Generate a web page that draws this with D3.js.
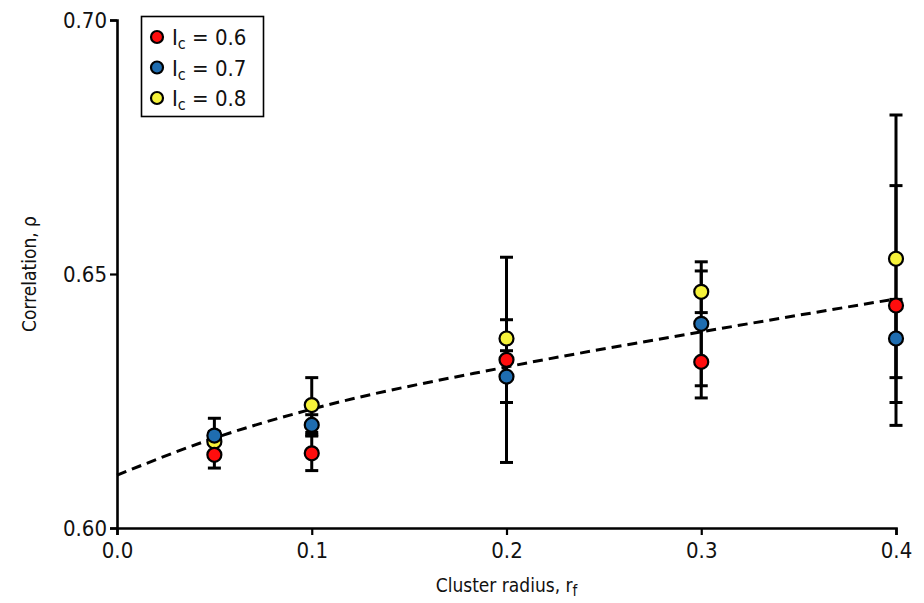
<!DOCTYPE html>
<html>
<head>
<meta charset="utf-8">
<script src="https://cdn.jsdelivr.net/npm/d3@7/dist/d3.min.js"></script>
<style>
  html, body { margin: 0; padding: 0; background: #fff; }
  svg text { font-family: "DejaVu Sans Condensed", "Liberation Sans Narrow", "DejaVu Sans", sans-serif; font-stretch: condensed; fill: #111; }
  svg tspan { fill: #111; }
</style>
</head>
<body>
<svg id="chart" width="924" height="603"></svg>
<script>
// Cluster radii at which correlation was measured
const radii = [0.05, 0.1, 0.2, 0.3, 0.4];

// Mean correlation and error (half-width) per threshold I_c
const rho06 = [0.6144, 0.6147, 0.6331, 0.6327, 0.6438];
const err06 = [0.0026, 0.0034, 0.0202, 0.0071, 0.0236];
const rho07 = [0.6182, 0.6203, 0.6298, 0.6402, 0.6373];
const err07 = [0.0034, 0.0020, 0.0051, 0.0122, 0.0077];
const rho08 = [0.6170, 0.6242, 0.6373, 0.6465, 0.6530];
const err08 = [0.0020, 0.0054, 0.0037, 0.0041, 0.0283];

// Fitted trend (dashed)
const fitX = [0, 0.05, 0.1, 0.2, 0.3, 0.4];
const fitY = [0.6104, 0.6177, 0.6234, 0.6317, 0.6386, 0.6451];

// Axis ticks
const xTicks = [0, 0.1, 0.2, 0.3, 0.4];
const yTicks = [0.60, 0.65, 0.70];

const seriesLabels = ["0.6", "0.7", "0.8"];
const seriesColors = ["#ff0d0d", "#1f6db0", "#f6f23a"];

const series = [
  { label: seriesLabels[0], color: seriesColors[0], rho: rho06, err: err06 },
  { label: seriesLabels[1], color: seriesColors[1], rho: rho07, err: err07 },
  { label: seriesLabels[2], color: seriesColors[2], rho: rho08, err: err08 }
];

const svg = d3.select("#chart");
const plotL = 117, plotR = 896, plotT = 20, plotB = 528;

const x = d3.scaleLinear().domain([0, 0.4]).range([plotL, plotR]);
const y = d3.scaleLinear().domain([0.60, 0.70]).range([plotB, plotT]);

// Axes
const xAxis = svg.append("g").attr("transform", `translate(0,${plotB})`)
  .call(d3.axisBottom(x).tickValues(xTicks).tickFormat(d3.format(".1f")).tickSizeOuter(0).tickSize(7));
const yAxis = svg.append("g").attr("transform", `translate(${plotL},0)`)
  .call(d3.axisLeft(y).tickValues(yTicks).tickFormat(d3.format(".2f")).tickSizeOuter(0).tickSize(7));

[xAxis, yAxis].forEach(g => {
  g.select(".domain").attr("stroke", "#000").attr("stroke-width", 2.6);
  g.selectAll(".tick line").attr("stroke", "#000").attr("stroke-width", 2.2);
  g.selectAll(".tick text").style("font-size", "22px").attr("fill", "#111");
});
xAxis.selectAll(".tick text").attr("dy", "0.9em");
yAxis.selectAll(".tick text").attr("x", -10);

// Axis titles
svg.append("text")
  .attr("x", (plotL + plotR) / 2).attr("y", 592)
  .attr("text-anchor", "middle").style("font-size", "19px")
  .text("Cluster radius, r")
  .append("tspan").attr("baseline-shift", "-25%").style("font-size", "15px").text("f");

svg.append("text")
  .attr("transform", `translate(36,${(plotT + plotB) / 2}) rotate(-90)`)
  .attr("text-anchor", "middle").style("font-size", "19px")
  .text("Correlation, ρ");

// Dashed trend
const line = d3.line().x(d => x(d[0])).y(d => y(d[1])).curve(d3.curveMonotoneX);
svg.append("path")
  .datum(fitX.map((v, i) => [v, fitY[i]]))
  .attr("d", line)
  .attr("fill", "none").attr("stroke", "#000")
  .attr("stroke-width", 3).attr("stroke-dasharray", "10,6");

// Error bars
const capW = 6.5;
series.forEach(s => {
  const g = svg.append("g").attr("stroke", "#000").attr("stroke-width", 3);
  radii.forEach((r, i) => {
    const cx = x(r), lo = y(s.rho[i] - s.err[i]), hi = y(s.rho[i] + s.err[i]);
    g.append("line").attr("x1", cx).attr("x2", cx).attr("y1", lo).attr("y2", hi);
    g.append("line").attr("x1", cx - capW).attr("x2", cx + capW).attr("y1", lo).attr("y2", lo);
    g.append("line").attr("x1", cx - capW).attr("x2", cx + capW).attr("y1", hi).attr("y2", hi);
  });
});

// Markers (yellow underneath, then red, then blue)
[series[2], series[0], series[1]].forEach(s => {
  svg.append("g").selectAll("circle")
    .data(radii.map((r, i) => [r, s.rho[i]]))
    .join("circle")
    .attr("cx", d => x(d[0])).attr("cy", d => y(d[1])).attr("r", 7)
    .attr("fill", s.color).attr("stroke", "#000").attr("stroke-width", 2.2);
});

// Legend
const lg = svg.append("g");
lg.append("rect").attr("x", 141.5).attr("y", 16.5).attr("width", 122).attr("height", 100)
  .attr("fill", "#fff").attr("stroke", "#000").attr("stroke-width", 1.6);
series.forEach((s, i) => {
  const cy = 37 + i * 30.5;
  lg.append("circle").attr("cx", 157).attr("cy", cy).attr("r", 6)
    .attr("fill", s.color).attr("stroke", "#000").attr("stroke-width", 2.2);
  const t = lg.append("text").attr("x", 172).attr("y", cy + 8).style("font-size", "22px");
  t.append("tspan").text("I");
  t.append("tspan").attr("baseline-shift", "-25%").style("font-size", "16px").text("c");
  t.append("tspan").text(" = " + s.label);
});
</script>
</body>
</html>
